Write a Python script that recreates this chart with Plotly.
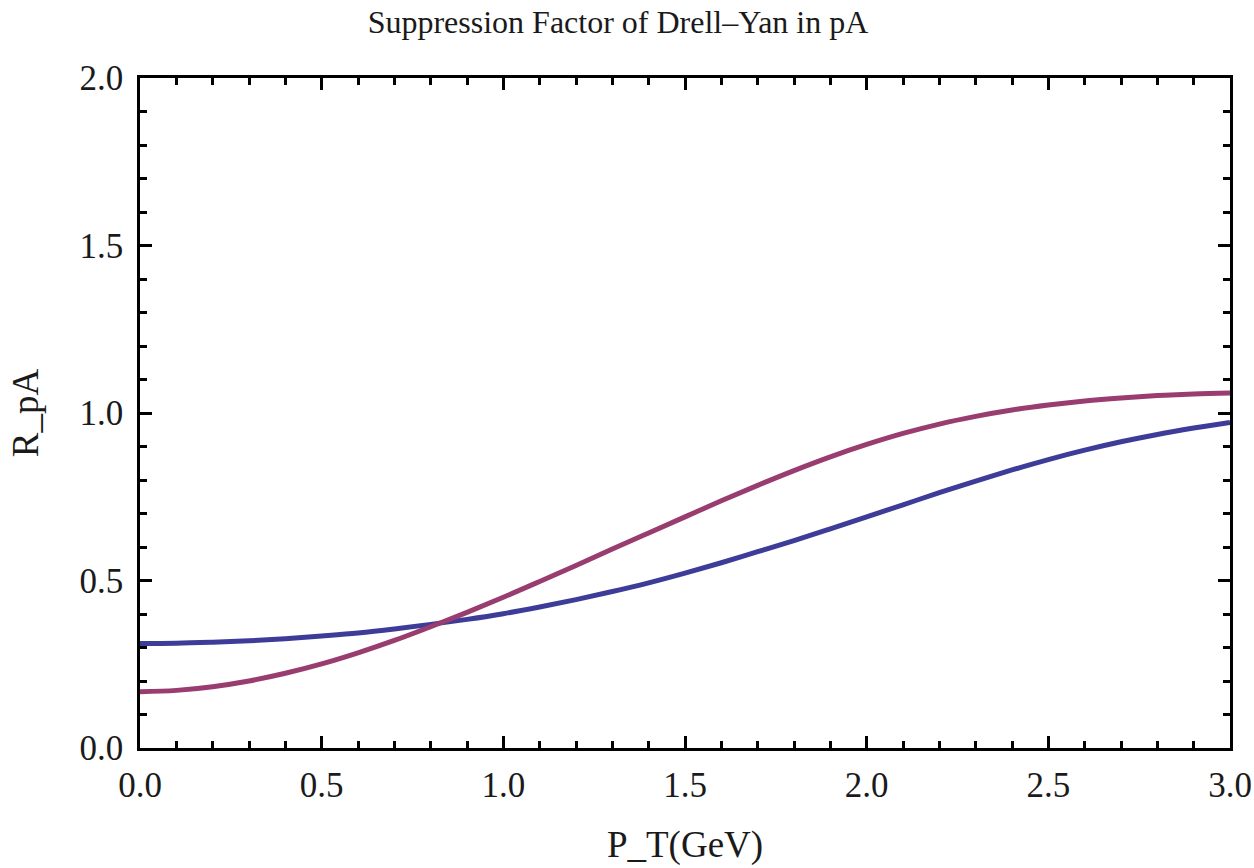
import plotly.graph_objects as go

pt = [round(0.1 * i, 1) for i in range(31)]
r_blue = [0.312, 0.313, 0.316, 0.320, 0.326, 0.334, 0.343, 0.355, 0.369, 0.384,
          0.401, 0.421, 0.443, 0.467, 0.493, 0.522, 0.553, 0.586, 0.619, 0.654,
          0.690, 0.726, 0.762, 0.797, 0.830, 0.861, 0.889, 0.914, 0.936, 0.955, 0.972]
r_purple = [0.168, 0.172, 0.183, 0.200, 0.223, 0.251, 0.284, 0.321, 0.362, 0.405,
            0.450, 0.497, 0.545, 0.594, 0.642, 0.690, 0.738, 0.784, 0.828, 0.869,
            0.906, 0.939, 0.967, 0.990, 1.009, 1.024, 1.036, 1.045, 1.052, 1.057, 1.060]
x_ticks = [0.0, 0.5, 1.0, 1.5, 2.0, 2.5, 3.0]
y_ticks = [0.0, 0.5, 1.0, 1.5, 2.0]

font_family = "Liberation Serif"
text_color = "#1a1a1a"

fig = go.Figure()
fig.add_trace(go.Scatter(x=pt, y=r_blue, mode="lines", line=dict(color="#3d3d99", width=5, shape="spline"),
                         showlegend=False))
fig.add_trace(go.Scatter(x=pt, y=r_purple, mode="lines", line=dict(color="#993d71", width=5, shape="spline"),
                         showlegend=False))

axis_common = dict(
    showgrid=False, zeroline=False, showline=True, linecolor="black", linewidth=2.5,
    mirror="allticks", ticks="inside", ticklen=12, tickwidth=2.5, tickcolor="black",
    tickfont=dict(family=font_family, size=35, color=text_color),
    automargin=False,
)

fig.update_xaxes(range=[0, 3], tickvals=x_ticks, ticktext=[f"{v:.1f}" for v in x_ticks],
                 minor=dict(dtick=0.1, ticks="inside", ticklen=7, tickwidth=2.5, tickcolor="black"),
                 ticklabelstandoff=4,
                 title=dict(text="P_T(GeV)", font=dict(family=font_family, size=37, color=text_color), standoff=28),
                 **axis_common)
fig.update_yaxes(range=[0, 2], tickvals=y_ticks, ticktext=[f"{v:.1f}" for v in y_ticks],
                 minor=dict(dtick=0.1, ticks="inside", ticklen=7, tickwidth=2.5, tickcolor="black"),
                 ticklabelstandoff=7,
                 title=dict(text="R_pA", font=dict(family=font_family, size=37, color=text_color), standoff=30),
                 **axis_common)

fig.update_layout(
    width=1254, height=868,
    margin=dict(l=140, r=24, t=78, b=120),
    paper_bgcolor="white", plot_bgcolor="white",
    title=dict(text="Suppression Factor of Drell\u2013Yan in pA", x=618 / 1254, xanchor="center",
               y=1 - 22 / 868, yanchor="middle",
               font=dict(family=font_family, size=32, color=text_color)),
)

fig.write_html("out.html", config={"displayModeBar": False},
               post_script="document.body.style.margin='0';document.body.style.padding='0';")
